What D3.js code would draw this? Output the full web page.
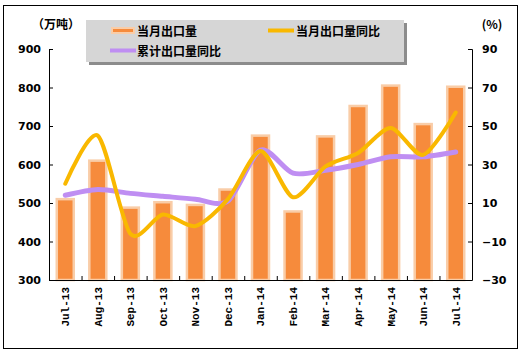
<!DOCTYPE html>
<html>
<head>
<meta charset="utf-8">
<script src="https://cdn.jsdelivr.net/npm/d3@7"></script>
<style>
  body { margin: 0; background: #fff; }
  text { font-family: "Noto Sans CJK SC", "DejaVu Sans", sans-serif; font-weight: bold; }
</style>
</head>
<body>
<svg width="522" height="354"></svg>
<script>
var months = ['Jul-13', 'Aug-13', 'Sep-13', 'Oct-13', 'Nov-13', 'Dec-13', 'Jan-14',
  'Feb-14', 'Mar-14', 'Apr-14', 'May-14', 'Jun-14', 'Jul-14'];
var monthExport = [510, 610, 488, 502, 495, 535, 675, 478, 673, 752, 805, 705, 802];   // 当月出口量
var monthYoY = [20, 45, -6, 4, -2, 12, 37, 13, 29, 36, 49, 35, 57];                  // 当月出口量同比
var cumYoY = [14, 17, 15, 13.5, 12, 11, 37.5, 25.5, 27, 30, 34, 34, 36.5];            // 累计出口量同比
var leftTicks = [300, 400, 500, 600, 700, 800, 900];
var rightTicks = [-30, -10, 10, 30, 50, 70, 90];

var svg = d3.select('svg');

// outer frame
svg.append('rect').attr('x', 3.5).attr('y', 5.5).attr('width', 514).attr('height', 343)
  .attr('fill', '#fff').attr('stroke', '#000').attr('stroke-width', 1);

var plotL = 49, plotR = 472, plotT = 49, plotB = 280;

var x = d3.scaleBand().domain(months).range([plotL, plotR]);
var yL = d3.scaleLinear().domain([300, 900]).range([plotB, plotT]);
var yR = d3.scaleLinear().domain([-30, 90]).range([plotB, plotT]);

// bars
var bw = 17;
svg.selectAll('rect.bar').data(monthExport).enter().append('rect')
  .attr('class', 'bar')
  .attr('x', function(d, i) { return x(months[i]) + x.bandwidth() / 2 - bw / 2; })
  .attr('y', function(d) { return yL(d); })
  .attr('width', bw)
  .attr('height', function(d) { return plotB - yL(d); })
  .attr('fill', '#F68B3C')
  .attr('stroke', '#F9CDA8')
  .attr('stroke-width', 2.5);

// lines
var line = function(ys) {
  return d3.line()
    .x(function(d, i) { return x(months[i]) + x.bandwidth() / 2; })
    .y(function(d) { return ys(d); })
    .curve(d3.curveCardinal.tension(0.2));
};

svg.append('path').datum(cumYoY)
  .attr('d', line(yR))
  .attr('fill', 'none').attr('stroke', '#BF8EF2').attr('stroke-width', 5)
  .attr('stroke-linecap', 'round');

svg.append('path').datum(monthYoY)
  .attr('d', line(yR))
  .attr('fill', 'none').attr('stroke', '#F9B800').attr('stroke-width', 4)
  .attr('stroke-linecap', 'round');

// axes
var axL = svg.append('g').attr('transform', 'translate(' + plotL + ',0)')
  .call(d3.axisLeft(yL).tickValues(leftTicks).tickSize(-4).tickPadding(8));
var axR = svg.append('g').attr('transform', 'translate(' + plotR + ',0)')
  .call(d3.axisRight(yR).tickValues(rightTicks).tickSize(-4).tickPadding(10)
    .tickFormat(function(d) { return d < 0 ? '\u2212' + Math.abs(d) : d; }));
var axB = svg.append('g').attr('transform', 'translate(0,' + plotB + ')')
  .call(d3.axisBottom(x).tickSize(0).tickPadding(0));

[axL, axR].forEach(function(a) {
  a.select('.domain').attr('stroke', '#000');
  a.selectAll('text').style('font-family', '"DejaVu Sans", sans-serif')
    .style('font-size', '11px').style('font-weight', 'bold').attr('fill', '#000');
});
axB.select('.domain').attr('stroke', '#000').attr('d', 'M' + plotL + ',0.5H' + plotR);
axB.selectAll('text')
  .attr('transform', 'rotate(-90)')
  .attr('x', -7).attr('y', 0).attr('dy', '0.35em')
  .style('text-anchor', 'end')
  .style('font-family', '"Liberation Mono", monospace')
  .style('font-size', '11px').style('font-weight', 'bold').attr('fill', '#000');

// small boundary ticks on the category axis
svg.selectAll('line.ctick').data(months.slice(1)).enter().append('line')
  .attr('class', 'ctick')
  .attr('x1', function(d) { return x(d) + 0.5; })
  .attr('x2', function(d) { return x(d) + 0.5; })
  .attr('y1', plotB).attr('y2', plotB - 4)
  .attr('stroke', '#000');

// unit labels
svg.append('text').attr('x', 56).attr('y', 29).attr('text-anchor', 'middle')
  .style('font-size', '12px').text('（万吨）');
svg.append('text').attr('x', 492).attr('y', 29).attr('text-anchor', 'middle')
  .style('font-size', '12px').text('(%)');

// legend
var lg = svg.append('g');
lg.append('rect').attr('x', 89).attr('y', 23).attr('width', 318).attr('height', 42).attr('fill', '#8c8c8c');
lg.append('rect').attr('x', 86).attr('y', 20).attr('width', 318).attr('height', 42).attr('fill', '#D6D6D6');

lg.append('rect').attr('x', 112).attr('y', 28).attr('width', 22).attr('height', 5)
  .attr('fill', '#F68B3C').attr('stroke', '#F9CDA8').attr('stroke-width', 2);
lg.append('text').attr('x', 137).attr('y', 36).style('font-size', '12px').text('当月出口量');

lg.append('line').attr('x1', 268).attr('x2', 294).attr('y1', 30.5).attr('y2', 30.5)
  .attr('stroke', '#F9B800').attr('stroke-width', 4);
lg.append('text').attr('x', 296).attr('y', 36).style('font-size', '12px').text('当月出口量同比');

lg.append('line').attr('x1', 110).attr('x2', 136).attr('y1', 50.5).attr('y2', 50.5)
  .attr('stroke', '#BF8EF2').attr('stroke-width', 4);
lg.append('text').attr('x', 137).attr('y', 56).style('font-size', '12px').text('累计出口量同比');
</script>
</body>
</html>
